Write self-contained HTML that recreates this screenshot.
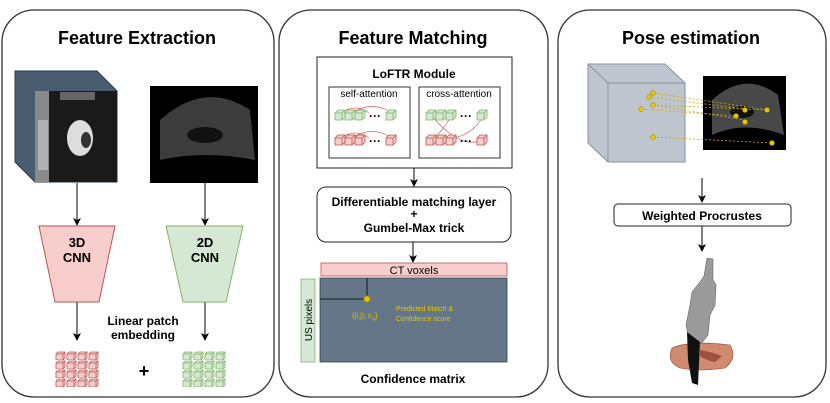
<!DOCTYPE html>
<html><head><meta charset="utf-8"><style>
body{margin:0;background:#fff}
svg{display:block;font-family:"Liberation Sans",Arial,sans-serif}
</style></head><body>
<svg width="830" height="403" viewBox="0 0 830 403" xmlns="http://www.w3.org/2000/svg">
<defs>
<marker id="a" markerWidth="8" markerHeight="8" refX="7" refY="4" orient="auto" markerUnits="userSpaceOnUse"><path d="M0,0 L8,4 L0,8 L2,4 z" fill="#000"/></marker>
<pattern id="rc" x="55" y="351" width="11" height="9" patternUnits="userSpaceOnUse"><path d="M1,3 L3,1 L10,1 L10,7 L8,9 L1,9 z" fill="#f8cecc" stroke="#b85450" stroke-width="0.8"/><path d="M1,3 L8,3 L8,9 M8,3 L10,1" fill="none" stroke="#b85450" stroke-width="0.8"/></pattern>
<pattern id="gc" x="182" y="351" width="11" height="9" patternUnits="userSpaceOnUse"><path d="M1,3 L3,1 L10,1 L10,7 L8,9 L1,9 z" fill="#d5e8d4" stroke="#82b366" stroke-width="0.8"/><path d="M1,3 L8,3 L8,9 M8,3 L10,1" fill="none" stroke="#82b366" stroke-width="0.8"/></pattern>
<g id="gcube"><path d="M0,3 L3,0 L10,0 L10,7 L7,10 L0,10 z" fill="#d5e8d4" stroke="#82b366" stroke-width="0.8"/><path d="M0,3 L7,3 L7,10 M7,3 L10,0" fill="none" stroke="#82b366" stroke-width="0.8"/></g>
<g id="rcube"><path d="M0,3 L3,0 L10,0 L10,7 L7,10 L0,10 z" fill="#f8cecc" stroke="#b85450" stroke-width="0.8"/><path d="M0,3 L7,3 L7,10 M7,3 L10,0" fill="none" stroke="#b85450" stroke-width="0.8"/></g>
</defs>

<rect x="2" y="10" width="272" height="387" rx="32" fill="#fff" stroke="#333" stroke-width="1.3"/>
<rect x="279" y="10" width="269" height="387" rx="32" fill="#fff" stroke="#333" stroke-width="1.3"/>
<rect x="558" y="10" width="268" height="387" rx="32" fill="#fff" stroke="#333" stroke-width="1.3"/>

<g font-weight="bold" font-size="18" text-anchor="middle">
<text x="137" y="44">Feature Extraction</text>
<text x="413" y="44">Feature Matching</text>
<text x="691" y="44">Pose estimation</text>
</g>

<!-- Panel 1 -->
<path d="M15,71 L97,71 L117,91 L117,182 L35,182 L15,162 z" fill="#4a5d70" stroke="#2a3a4a"/>
<rect x="35" y="91" width="82" height="91" fill="#1a1a1a"/>
<rect x="35" y="91" width="14" height="91" fill="#8a8a8a"/>
<rect x="38" y="120" width="10" height="50" fill="#ccc" opacity="0.6"/>
<path d="M60,92 L95,92 L95,100 L60,100 z" fill="#666"/>
<ellipse cx="80" cy="138" rx="13" ry="18" fill="#ddd"/>
<ellipse cx="86" cy="140" rx="5" ry="8" fill="#333"/>
<rect x="150" y="86" width="108" height="97" fill="#000"/>
<path d="M160,120 Q205,80 250,110 L255,160 Q205,150 160,160 z" fill="#555" opacity="0.7"/>
<ellipse cx="205" cy="135" rx="18" ry="8" fill="#111"/>
<g stroke="#000" stroke-width="1" marker-end="url(#a)">
<line x1="77" y1="183" x2="77" y2="225"/><line x1="205" y1="183" x2="205" y2="225"/>
<line x1="77" y1="302" x2="77" y2="340"/><line x1="205" y1="302" x2="205" y2="340"/>
</g>
<path d="M39,226 L115,226 L99,302 L55,302 z" fill="#f8cecc" stroke="#b85450"/>
<path d="M166,226 L243,226 L226,302 L183,302 z" fill="#d5e8d4" stroke="#82b366"/>
<g font-weight="bold" font-size="13" text-anchor="middle">
<text x="77" y="247">3D</text><text x="77" y="262">CNN</text>
<text x="205" y="247">2D</text><text x="205" y="262">CNN</text>
<text x="143" y="325" font-size="12">Linear patch</text>
<text x="143" y="339" font-size="12">embedding</text>
<text x="144" y="377" font-size="18">+</text>
</g>
<rect x="55" y="351" width="44" height="36" fill="url(#rc)"/>
<rect x="182" y="351" width="44" height="36" fill="url(#gc)"/>

<!-- Panel 2 -->
<rect x="317" y="57" width="195" height="111" fill="#fff" stroke="#222"/>
<text x="414" y="78" font-weight="bold" font-size="12" text-anchor="middle">LoFTR Module</text>
<rect x="329" y="87" width="81" height="71" fill="#fff" stroke="#333"/>
<rect x="419" y="87" width="81" height="71" fill="#fff" stroke="#333"/>
<text x="369" y="97" font-size="10" text-anchor="middle">self-attention</text>
<text x="459" y="97" font-size="10" text-anchor="middle">cross-attention</text>
<g fill="none" stroke="#d06060" stroke-width="0.7">
<path d="M341,113 Q355,103 369,113"/><path d="M352,113 Q372,100 392,113"/>
<path d="M341,138 Q355,128 369,138"/><path d="M352,138 Q372,125 392,138"/>
<path d="M431,115 Q460,150 482,140"/><path d="M452,115 Q440,135 433,138"/><path d="M484,115 Q470,140 443,138"/>
</g>
<g>
<use href="#gcube" x="335" y="110"/><use href="#gcube" x="345" y="110"/><use href="#gcube" x="355" y="110"/><use href="#gcube" x="386" y="110"/>
<use href="#rcube" x="335" y="135"/><use href="#rcube" x="345" y="135"/><use href="#rcube" x="355" y="135"/><use href="#rcube" x="386" y="135"/>
<use href="#gcube" x="426" y="110"/><use href="#gcube" x="436" y="110"/><use href="#gcube" x="446" y="110"/><use href="#gcube" x="477" y="110"/>
<use href="#rcube" x="426" y="135"/><use href="#rcube" x="436" y="135"/><use href="#rcube" x="446" y="135"/><use href="#rcube" x="477" y="135"/>
</g>
<g font-weight="bold" font-size="12"><text x="369" y="120">···</text><text x="369" y="145">···</text><text x="460" y="120">···</text><text x="460" y="145">···</text></g>
<g stroke="#000" stroke-width="1" marker-end="url(#a)">
<line x1="414" y1="168" x2="414" y2="186"/><line x1="413" y1="242" x2="413" y2="262"/>
<line x1="702" y1="178" x2="702" y2="202"/><line x1="702" y1="226" x2="702" y2="251"/>
</g>
<rect x="317" y="187" width="194" height="55" rx="9" fill="#fff" stroke="#222"/>
<g font-weight="bold" font-size="12" text-anchor="middle">
<text x="414" y="206">Differentiable matching layer</text>
<text x="414" y="218">+</text>
<text x="414" y="232">Gumbel-Max trick</text>
<text x="413" y="383">Confidence matrix</text>
</g>
<rect x="321" y="263" width="186" height="13" fill="#f8cecc" stroke="#b85450" stroke-width="0.8"/>
<text x="414" y="274" font-size="11" text-anchor="middle">CT voxels</text>
<rect x="320" y="278" width="187" height="84" fill="#647687" stroke="#314354" stroke-width="0.8"/>
<rect x="301" y="279" width="14" height="83" fill="#d5e8d4" stroke="#82b366" stroke-width="0.8"/>
<text transform="translate(312,320) rotate(-90)" font-size="10" text-anchor="middle">US pixels</text>
<path d="M320,299 L366,299 M367,278 L367,297" stroke="#000" stroke-width="0.8" fill="none"/>
<circle cx="367" cy="299" r="3" fill="#e3c800" stroke="#b09500"/>
<g fill="#e3c800" font-size="7">
<text x="352" y="318">{(i,j); c<tspan font-size="5" dy="2">i,j</tspan><tspan dy="-2">}</tspan></text>
<text x="396" y="311">Predicted Match &amp;</text>
<text x="396" y="321">Confidence score</text>
</g>

<!-- Panel 3 -->
<path d="M588,64 L665,64 L685,83 L685,162 L608,162 L588,143 z" fill="#bfc5ce" stroke="#8a929c"/>
<path d="M588,64 L608,83 L685,83 M608,83 L608,162" fill="none" stroke="#8a929c"/>
<rect x="703" y="76" width="83" height="74" fill="#000"/>
<path d="M712,100 Q745,70 778,95 L784,135 Q745,120 712,135 z" fill="#666" opacity="0.7"/>
<ellipse cx="742" cy="112" rx="12" ry="6" fill="#111"/>
<g stroke="#c9a800" stroke-width="0.8" stroke-dasharray="2,2">
<line x1="653" y1="93" x2="768" y2="110"/><line x1="649" y1="97" x2="745" y2="109"/>
<line x1="653" y1="105" x2="767" y2="110"/><line x1="641" y1="109" x2="736" y2="116"/>
<line x1="653" y1="105" x2="745" y2="120"/><line x1="653" y1="137" x2="772" y2="143"/>
</g>
<g fill="#e3c800" stroke="#a08000" stroke-width="0.5">
<circle cx="653" cy="93" r="2.5"/><circle cx="649" cy="97" r="2.5"/><circle cx="653" cy="105" r="2.5"/><circle cx="641" cy="109" r="2.5"/><circle cx="653" cy="137" r="2.5"/>
<circle cx="745" cy="110" r="2.5"/><circle cx="767" cy="110" r="2.5"/><circle cx="736" cy="116" r="2.5"/><circle cx="745" cy="122" r="2.5"/><circle cx="772" cy="143" r="2.5"/>
</g>
<rect x="614" y="204" width="177" height="22" rx="4" fill="#fff" stroke="#222"/>
<text x="702" y="220" font-weight="bold" font-size="12" text-anchor="middle">Weighted Procrustes</text>
<!-- probe -->
<path d="M707,258 L713,259 L713,280 L716,285 L715,305 L710,315 L708,335 L700,345 L690,343 L686,325 L690,305 L692,292 L700,282 L704,276 z" fill="#9a9a9a" stroke="#666" stroke-width="0.6"/>
<path d="M672,348 Q690,340 730,345 Q738,358 725,368 Q700,372 680,368 Q666,362 672,348 z" fill="#d08a70" stroke="#8a4a35" stroke-width="0.6"/>
<path d="M700,350 Q712,352 722,356 L715,362 Q705,360 700,356 z" fill="#a05040"/>
<path d="M687,332 L700,342 L698,385 L692,383 L688,360 z" fill="#111"/>
</svg>
</body></html>
